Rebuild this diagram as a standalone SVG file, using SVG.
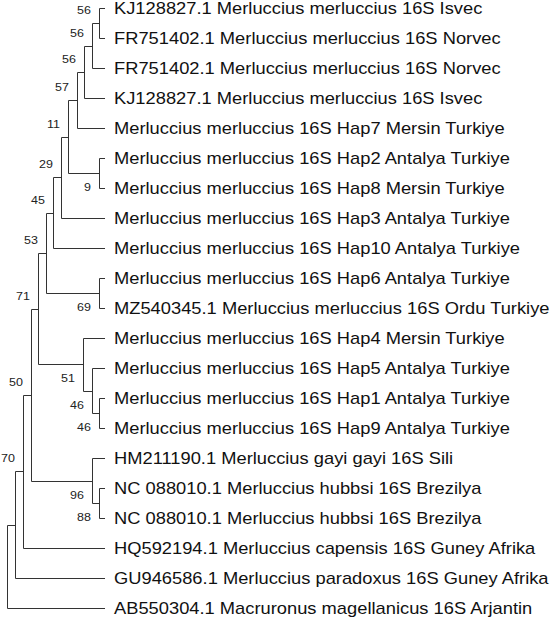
<svg xmlns="http://www.w3.org/2000/svg" width="554" height="621" viewBox="0 0 554 621">
<style>
.tip{font-family:"Liberation Sans",Arial,sans-serif;font-size:16px;fill:#111}
.bs{font-family:"Liberation Sans",Arial,sans-serif;font-size:11px;fill:#222;text-anchor:end}
.br{fill:none;stroke:#333;stroke-width:1}
</style>
<rect width="554" height="621" fill="#fff"/>
<g id="connectors" class="br">
<path d="M99.5 8.5H105M99.5 38.5H105M99.5 8.5V38.5"/>
<path d="M92.5 23.5H99.5M92.5 68.5H105M92.5 23.5V68.5"/>
<path d="M84.5 46.5H92.5M84.5 98.5H105M84.5 46.5V98.5"/>
<path d="M77.5 72.5H84.5M77.5 128.5H105M77.5 72.5V128.5"/>
<path d="M99.5 158.5H105M99.5 188.5H105M99.5 158.5V188.5"/>
<path d="M68.5 100.5H77.5M68.5 173.5H99.5M68.5 100.5V173.5"/>
<path d="M61.5 137.5H68.5M61.5 218.5H105M61.5 137.5V218.5"/>
<path d="M53.5 177.5H61.5M53.5 248.5H105M53.5 177.5V248.5"/>
<path d="M99.5 278.5H105M99.5 308.5H105M99.5 278.5V308.5"/>
<path d="M46.5 213.5H53.5M46.5 293.5H99.5M46.5 213.5V293.5"/>
<path d="M99.5 398.5H105M99.5 428.5H105M99.5 398.5V428.5"/>
<path d="M92.5 368.5H105M92.5 413.5H99.5M92.5 368.5V413.5"/>
<path d="M83.5 338.5H105M83.5 391.5H92.5M83.5 338.5V391.5"/>
<path d="M38.5 253.5H46.5M38.5 364.5H83.5M38.5 253.5V364.5"/>
<path d="M99.5 488.5H105M99.5 518.5H105M99.5 488.5V518.5"/>
<path d="M92.5 458.5H105M92.5 503.5H99.5M92.5 458.5V503.5"/>
<path d="M31.5 309.5H38.5M31.5 481.5H92.5M31.5 309.5V481.5"/>
<path d="M23.5 395.5H31.5M23.5 548.5H105M23.5 395.5V548.5"/>
<path d="M15.5 471.5H23.5M15.5 578.5H105M15.5 471.5V578.5"/>
<path d="M7.5 525.5H15.5M7.5 608.5H105M7.5 525.5V608.5"/>
</g>
<g id="support">
<text class="bs" transform="translate(91,14) scale(1.137,1)">56</text>
<text class="bs" transform="translate(84,37) scale(1.137,1)">56</text>
<text class="bs" transform="translate(76,63) scale(1.137,1)">56</text>
<text class="bs" transform="translate(69,91) scale(1.137,1)">57</text>
<text class="bs" transform="translate(60,128) scale(1.137,1)">11</text>
<text class="bs" transform="translate(53,168) scale(1.137,1)">29</text>
<text class="bs" transform="translate(91,191) scale(1.137,1)">9</text>
<text class="bs" transform="translate(45,204) scale(1.137,1)">45</text>
<text class="bs" transform="translate(38,244) scale(1.137,1)">53</text>
<text class="bs" transform="translate(30,300) scale(1.137,1)">71</text>
<text class="bs" transform="translate(91,311) scale(1.137,1)">69</text>
<text class="bs" transform="translate(23,386) scale(1.137,1)">50</text>
<text class="bs" transform="translate(75,382) scale(1.137,1)">51</text>
<text class="bs" transform="translate(84,409) scale(1.137,1)">46</text>
<text class="bs" transform="translate(91,431) scale(1.137,1)">46</text>
<text class="bs" transform="translate(15,462) scale(1.137,1)">70</text>
<text class="bs" transform="translate(84,499) scale(1.137,1)">96</text>
<text class="bs" transform="translate(91,521) scale(1.137,1)">88</text>
</g>
<g id="t0"><text class="tip" transform="translate(114,14) scale(1.145,1)">KJ128827.1 Merluccius merluccius 16S Isvec</text></g>
<g id="t1"><text class="tip" transform="translate(114,44) scale(1.145,1)">FR751402.1 Merluccius merluccius 16S Norvec</text></g>
<g id="t2"><text class="tip" transform="translate(114,74) scale(1.145,1)">FR751402.1 Merluccius merluccius 16S Norvec</text></g>
<g id="t3"><text class="tip" transform="translate(114,104) scale(1.145,1)">KJ128827.1 Merluccius merluccius 16S Isvec</text></g>
<g id="t4"><text class="tip" transform="translate(114,134) scale(1.145,1)">Merluccius merluccius 16S Hap7 Mersin Turkiye</text></g>
<g id="t5"><text class="tip" transform="translate(114,164) scale(1.145,1)">Merluccius merluccius 16S Hap2 Antalya Turkiye</text></g>
<g id="t6"><text class="tip" transform="translate(114,194) scale(1.145,1)">Merluccius merluccius 16S Hap8 Mersin Turkiye</text></g>
<g id="t7"><text class="tip" transform="translate(114,224) scale(1.145,1)">Merluccius merluccius 16S Hap3 Antalya Turkiye</text></g>
<g id="t8"><text class="tip" transform="translate(114,254) scale(1.145,1)">Merluccius merluccius 16S Hap10 Antalya Turkiye</text></g>
<g id="t9"><text class="tip" transform="translate(114,284) scale(1.145,1)">Merluccius merluccius 16S Hap6 Antalya Turkiye</text></g>
<g id="t10"><text class="tip" transform="translate(114,314) scale(1.145,1)">MZ540345.1 Merluccius merluccius 16S Ordu Turkiye</text></g>
<g id="t11"><text class="tip" transform="translate(114,344) scale(1.145,1)">Merluccius merluccius 16S Hap4 Mersin Turkiye</text></g>
<g id="t12"><text class="tip" transform="translate(114,374) scale(1.145,1)">Merluccius merluccius 16S Hap5 Antalya Turkiye</text></g>
<g id="t13"><text class="tip" transform="translate(114,404) scale(1.145,1)">Merluccius merluccius 16S Hap1 Antalya Turkiye</text></g>
<g id="t14"><text class="tip" transform="translate(114,434) scale(1.145,1)">Merluccius merluccius 16S Hap9 Antalya Turkiye</text></g>
<g id="t15"><text class="tip" transform="translate(114,464) scale(1.145,1)">HM211190.1 Merluccius gayi gayi 16S Sili</text></g>
<g id="t16"><text class="tip" transform="translate(114,494) scale(1.145,1)">NC 088010.1 Merluccius hubbsi 16S Brezilya</text></g>
<g id="t17"><text class="tip" transform="translate(114,524) scale(1.145,1)">NC 088010.1 Merluccius hubbsi 16S Brezilya</text></g>
<g id="t18"><text class="tip" transform="translate(114,554) scale(1.145,1)">HQ592194.1 Merluccius capensis 16S Guney Afrika</text></g>
<g id="t19"><text class="tip" transform="translate(114,584) scale(1.145,1)">GU946586.1 Merluccius paradoxus 16S Guney Afrika</text></g>
<g id="t20"><text class="tip" transform="translate(114,614) scale(1.145,1)">AB550304.1 Macruronus magellanicus 16S Arjantin</text></g>
</svg>
